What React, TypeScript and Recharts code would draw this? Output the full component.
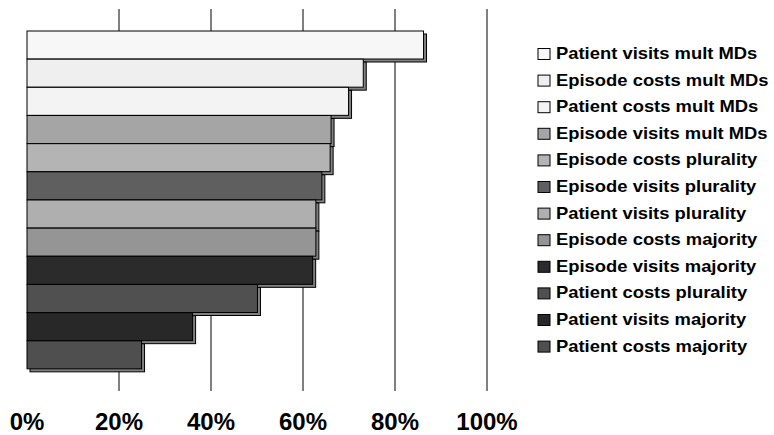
import { BarChart, Bar, XAxis, YAxis, CartesianGrid, Cell } from "recharts";

const categories = [
  "Patient visits mult MDs",
  "Episode costs mult MDs",
  "Patient costs mult MDs",
  "Episode visits mult MDs",
  "Episode costs plurality",
  "Episode visits plurality",
  "Patient visits plurality",
  "Episode costs majority",
  "Episode visits majority",
  "Patient costs plurality",
  "Patient visits majority",
  "Patient costs majority",
];

const shares = [86.2, 73.1, 69.9, 66.1, 65.9, 64.1, 62.8, 62.8, 62.1, 50.1, 36.0, 24.9];

const fills = [
  "#f7f7f7",
  "#efefef",
  "#f3f3f3",
  "#a5a5a5",
  "#b4b4b4",
  "#5f5f5f",
  "#afafaf",
  "#959595",
  "#2b2b2b",
  "#505050",
  "#282828",
  "#4f4f4f",
];

const xTicks = [0, 20, 40, 60, 80, 100];
const gridValues = [20, 40, 60, 80, 100];

const data = categories.map((name, i) => ({ name, value: shares[i] }));

const FONT = "'Liberation Sans', Arial, Helvetica, sans-serif";

// bar with a grey drop shadow offset down-right
function ShadowBar(props: any) {
  const { x, y, width, height, fill } = props;
  if (!width) return null;
  return (
    <g>
      <rect x={x + 3} y={y + 3} width={width} height={height} fill="#808080" stroke="#000" />
      <rect x={x} y={y} width={width} height={height} fill={fill} stroke="#000" />
    </g>
  );
}

function PercentTick(props: any) {
  const { x, y, payload } = props;
  return (
    <text x={x} y={y} dy={31} textAnchor="middle" fontFamily={FONT} fontWeight="bold" fontSize={24} fill="#000">
      {payload.value}%
    </text>
  );
}

function SideLegend() {
  return (
    <svg width={774} height={435} style={{ position: "absolute", left: 0, top: 0, pointerEvents: "none" }}>
      {categories.map((name, i) => {
        const base = 59 + i * 26.6;
        return (
          <g key={name}>
            <rect x={538} y={base - 10.5} width={12} height={11} fill={fills[i]} stroke="#000" />
            <text
              transform={`translate(556 ${base}) scale(1.15 1)`}
              fontFamily={FONT}
              fontWeight="bold"
              fontSize={16}
              fill="#000"
            >
              {name}
            </text>
          </g>
        );
      })}
    </svg>
  );
}

export default function App() {
  return (
    <div style={{ position: "absolute", left: 0, top: 0, width: 774, height: 435, background: "#fff" }}>
      <BarChart
        width={774}
        height={435}
        data={data}
        layout="vertical"
        margin={{ top: 9, right: 287, bottom: 0, left: 27 }}
        barCategoryGap={0}
      >
        <CartesianGrid horizontal={false} verticalValues={gridValues} stroke="#000" />
        <XAxis
          type="number"
          domain={[0, 100]}
          ticks={xTicks}
          axisLine={false}
          tickLine={false}
          tick={<PercentTick />}
          height={44}
        />
        <YAxis type="category" dataKey="name" hide padding={{ top: 22, bottom: 22 }} />
        <Bar dataKey="value" shape={<ShadowBar />} isAnimationActive={false}>
          {data.map((d, i) => (
            <Cell key={d.name} fill={fills[i]} />
          ))}
        </Bar>
      </BarChart>
      <SideLegend />
    </div>
  );
}
